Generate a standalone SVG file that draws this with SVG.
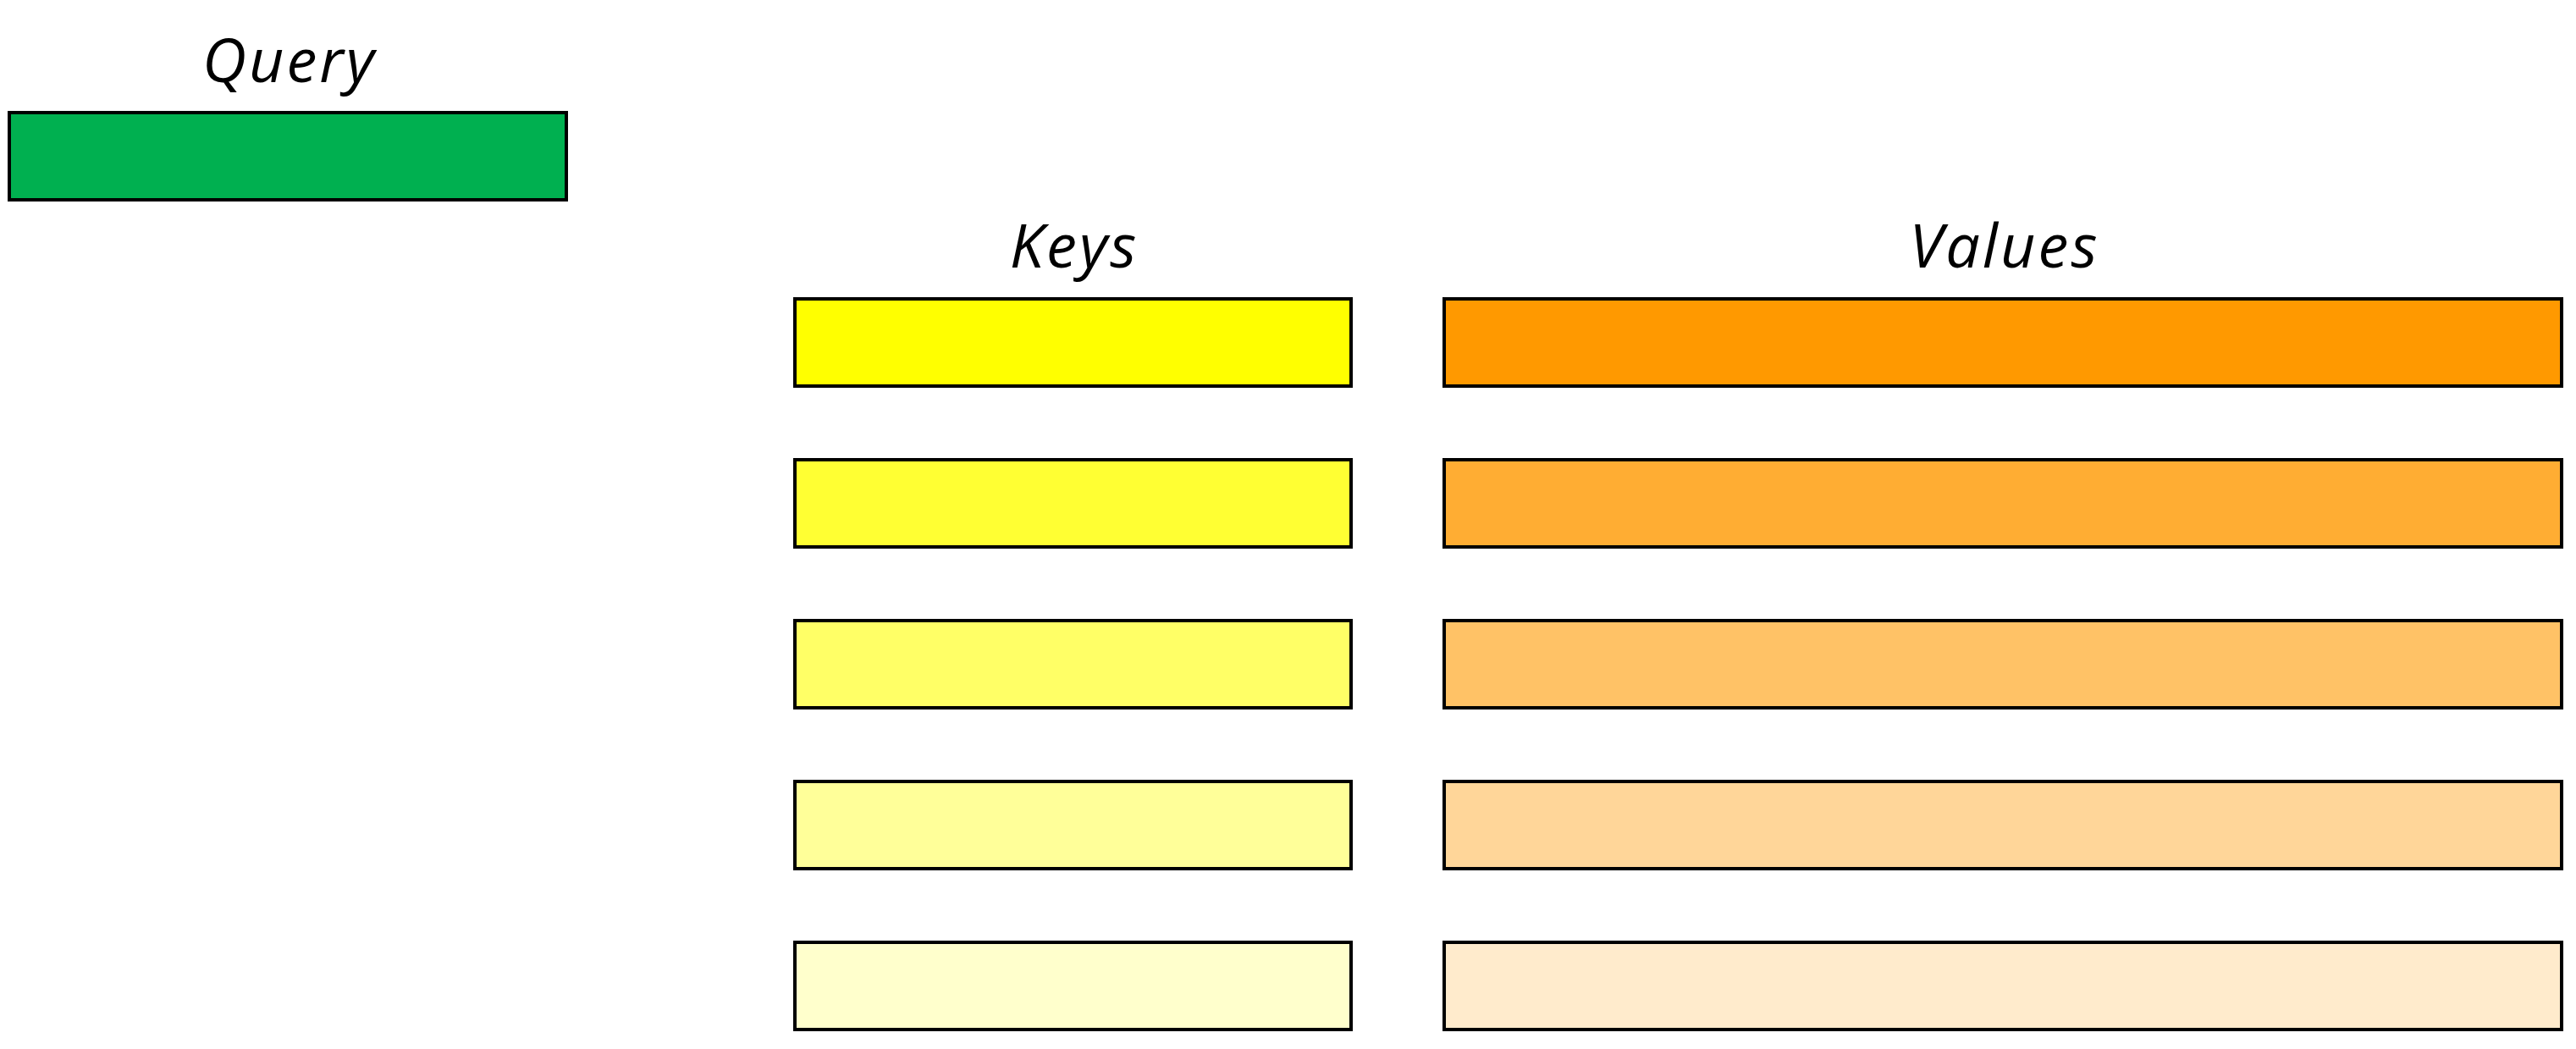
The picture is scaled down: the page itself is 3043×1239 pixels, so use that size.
<svg xmlns="http://www.w3.org/2000/svg" width="3043" height="1239" viewBox="0 0 3043 1239">
  <style>
    .box { stroke: #000000; stroke-width: 4; }
    .lbl { font-family: "Open Sans", "Liberation Sans", sans-serif; font-style: italic; font-size: 72px; letter-spacing: 3px; fill: #000000; text-anchor: middle; }
  </style>
  <rect width="3043" height="1239" fill="#ffffff"/>
  <g id="query">
    <text class="lbl" x="342" y="97">Query</text>
    <rect class="box" x="11" y="133" width="658" height="103" fill="#00B050"/>
  </g>
  <g id="keys">
    <text class="lbl" x="1269" y="316">Keys</text>
    <rect id="key1" class="box" x="939" y="353" width="657" height="103" fill="#FFFF00"/>
    <rect id="key2" class="box" x="939" y="543" width="657" height="103" fill="#FFFF33"/>
    <rect id="key3" class="box" x="939" y="733" width="657" height="103" fill="#FFFF66"/>
    <rect id="key4" class="box" x="939" y="923" width="657" height="103" fill="#FFFF99"/>
    <rect id="key5" class="box" x="939" y="1113" width="657" height="103" fill="#FFFFCC"/>
  </g>
  <g id="values">
    <text class="lbl" x="2368" y="316">Values</text>
    <rect id="value1" class="box" x="1706" y="353" width="1320" height="103" fill="#FF9900"/>
    <rect id="value2" class="box" x="1706" y="543" width="1320" height="103" fill="#FFAD33"/>
    <rect id="value3" class="box" x="1706" y="733" width="1320" height="103" fill="#FFC266"/>
    <rect id="value4" class="box" x="1706" y="923" width="1320" height="103" fill="#FFD699"/>
    <rect id="value5" class="box" x="1706" y="1113" width="1320" height="103" fill="#FFEBCC"/>
  </g>
  <g id="connectors"></g>
</svg>
